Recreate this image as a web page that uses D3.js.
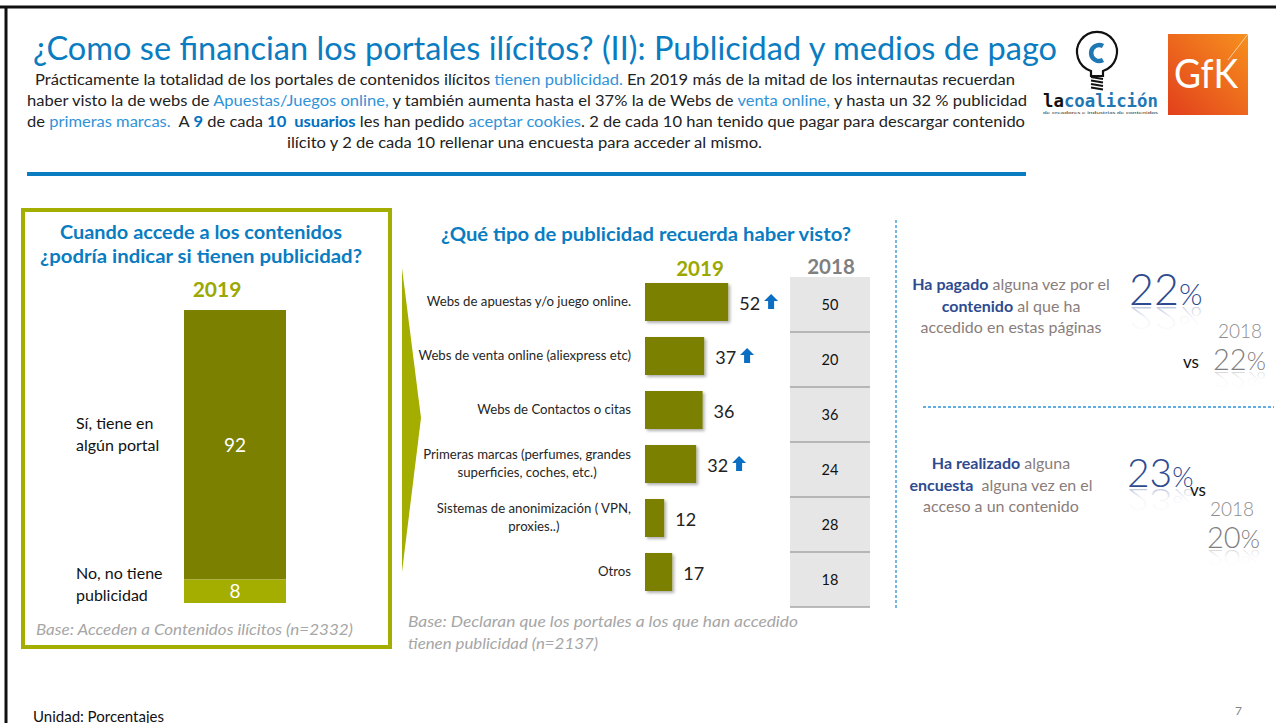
<!DOCTYPE html>
<html>
<head>
<meta charset="utf-8">
<title>Publicidad y medios de pago</title>
<script src="https://d3js.org/d3.v7.min.js"></script>
<style>
    body { margin: 0; background: #fff; }
    svg { display: block; font-family: Lato, "Open Sans", sans-serif; }
</style>
</head>
<body>
<svg width="1276" height="723"></svg>
<script>
    // left chart: does the portal have ads?
    const adAnswers = ["Sí, tiene en\nalgún portal", "No, no tiene\npublicidad"];
    const adShares = [92, 8];

    // middle chart: what kind of ads
    const adTypes = [
        "Webs de apuestas y/o juego online.",
        "Webs de venta online (aliexpress etc)",
        "Webs de Contactos o citas",
        "Primeras marcas (perfumes, grandes\nsuperficies, coches, etc.)",
        "Sistemas de anonimización ( VPN,\nproxies..)",
        "Otros"
    ];
    const seen2019 = [52, 37, 36, 32, 12, 17];
    const seen2018 = [50, 20, 36, 24, 28, 18];
    const rising = [true, true, false, true, false, false];

    // right side: paid / survey
    const sideQuestions = [
        [[["Ha pagado", "k"], [" alguna vez por el", "g"]], [["contenido", "k"], [" al que ha", "g"]], [["accedido en estas páginas", "g"]]],
        [[["Ha realizado", "k"], [" alguna", "g"]], [["encuesta", "k"], ["  alguna vez en el", "g"]], [["acceso a un contenido", "g"]]]
    ];
    const side2019 = [22, 23];
    const side2018 = [22, 20];

    const blue = "#0a7cc1", olive = "#7b8000", lime = "#a3ae00";

    const svg = d3.select("svg");
    const defs = svg.append("defs");

    // stretch a text to a given width
    function fitTo(t, w) {
        return t.attr("textLength", w).attr("lengthAdjust", "spacingAndGlyphs");
    }

    // frame
    svg.append("line").attr("x1", 0).attr("x2", 1276).attr("y1", 7).attr("y2", 7)
        .attr("stroke", "#111").attr("stroke-width", 3);
    svg.append("line").attr("x1", 6).attr("x2", 6).attr("y1", 6).attr("y2", 723)
        .attr("stroke", "#111").attr("stroke-width", 3);

    // title
    fitTo(svg.append("text").attr("x", 33).attr("y", 60)
        .attr("font-size", 32).attr("fill", blue)
        .text("¿Como se financian los portales ilícitos? (II): Publicidad y medios de pago"), 1024);

    // intro paragraph
    const introLines = [
        [["Prácticamente la totalidad de los portales de contenidos ilícitos ", "n"], ["tienen publicidad.", "l"], [" En 2019 más de la mitad de los internautas recuerdan", "n"]],
        [["haber visto la de webs de ", "n"], ["Apuestas/Juegos online,", "l"], [" y también aumenta hasta el 37% la de Webs de ", "n"], ["venta online,", "l"], [" y hasta un 32 % publicidad", "n"]],
        [["de ", "n"], ["primeras marcas.", "l"], ["  A ", "n"], ["9", "b"], [" de cada ", "n"], ["10  usuarios", "b"], [" les han pedido ", "n"], ["aceptar cookies", "l"], [". 2 de cada 10 han tenido que pagar para descargar contenido", "n"]],
        [["ilícito y 2 de cada 10 rellenar una encuesta para acceder al mismo.", "n"]]
    ];
    const introX = [[35, 980], [27, 1000], [27, 998], [287, 475]];
    const introY = [85, 106, 127, 148];
    const segStyle = {
        n: { fill: "#222", weight: 400 },
        l: { fill: "#2f93d8", weight: 400 },
        b: { fill: "#0070c0", weight: 700 }
    };
    introLines.forEach((segs, i) => {
        const t = fitTo(svg.append("text").attr("x", introX[i][0]).attr("y", introY[i])
            .attr("font-size", 14.5).style("white-space", "pre"), introX[i][1]);
        segs.forEach(([s, k]) => t.append("tspan").text(s)
            .attr("fill", segStyle[k].fill).attr("font-weight", segStyle[k].weight));
    });

    svg.append("rect").attr("x", 27).attr("y", 172).attr("width", 999).attr("height", 4).attr("fill", blue);

    // logos
    const bulb = svg.append("g").attr("transform", "translate(1097,53)");
    bulb.append("path")
        .attr("d", "M-6,18 A20,20 0 1,1 6,18 L6,23 L-6,23 Z")
        .attr("fill", "none").attr("stroke", "#111").attr("stroke-width", 2.2);
    bulb.append("path")
        .attr("d", "M6,-7 A8,8 0 1,0 6,7")
        .attr("fill", "none").attr("stroke", "#1f78b4").attr("stroke-width", 4.5);
    d3.range(4).forEach(i => bulb.append("line")
        .attr("x1", -6).attr("x2", 6).attr("y1", 24 + i * 3.5).attr("y2", 26 + i * 3.5)
        .attr("stroke", "#111").attr("stroke-width", 2));
    const lc = fitTo(svg.append("text").attr("x", 1043).attr("y", 107)
        .attr("font-family", "DejaVu Sans Mono").attr("font-weight", 700).attr("font-size", 17), 115);
    lc.append("tspan").attr("fill", "#111").text("la");
    lc.append("tspan").attr("fill", "#1f78b4").text("coalición");
    fitTo(svg.append("text").attr("x", 1043).attr("y", 114).attr("font-size", 4.5).attr("fill", "#333")
        .text("de creadores e industrias de contenidos"), 115);

    const gfkGrad = defs.append("linearGradient").attr("id", "gfk")
        .attr("x1", 0).attr("y1", 1).attr("x2", 1).attr("y2", 0);
    gfkGrad.append("stop").attr("offset", 0).attr("stop-color", "#e2401c");
    gfkGrad.append("stop").attr("offset", 1).attr("stop-color", "#f7901e");
    svg.append("rect").attr("x", 1168).attr("y", 34).attr("width", 80).attr("height", 81).attr("fill", "url(#gfk)");
    svg.append("line").attr("x1", 1228).attr("y1", 60).attr("x2", 1248).attr("y2", 34)
        .attr("stroke", "#fff").attr("stroke-opacity", 0.6).attr("stroke-width", 1);
    fitTo(svg.append("text").attr("x", 1206).attr("y", 88).attr("text-anchor", "middle")
        .attr("font-size", 40).attr("fill", "#fff").text("GfK"), 64);

    // ---------- left panel ----------
    svg.append("rect").attr("x", 23).attr("y", 210).attr("width", 367).attr("height", 437)
        .attr("fill", "none").attr("stroke", lime).attr("stroke-width", 4);
    [["Cuando accede a los contenidos", 282], ["¿podría indicar si tienen publicidad?", 322]].forEach(([s, w], i) =>
        fitTo(svg.append("text").attr("x", 201).attr("y", 239 + i * 24).attr("text-anchor", "middle")
            .attr("font-size", 18.5).attr("font-weight", 700).attr("fill", blue).text(s), w));
    svg.append("text").attr("x", 217).attr("y", 297).attr("text-anchor", "middle")
        .attr("font-size", 21).attr("font-weight", 700).attr("fill", "#9aa800").text("2019");

    const yStack = d3.scaleLinear().domain([0, 100]).range([603, 310]);
    const stackColors = [olive, lime];
    const starts = adShares.map((v, i) => d3.sum(adShares.slice(i + 1)));
    adShares.forEach((v, i) => {
        const y0 = yStack(starts[i] + v), y1 = yStack(starts[i]);
        svg.append("rect").attr("x", 184).attr("width", 102)
            .attr("y", y0).attr("height", y1 - y0).attr("fill", stackColors[i]);
        svg.append("text").attr("x", 235).attr("y", (y0 + y1) / 2 + 7)
            .attr("text-anchor", "middle").attr("font-size", 19).attr("fill", "#fff").text(v);
    });
    const answerY = [429, 579];
    adAnswers.forEach((a, i) => {
        a.split("\n").forEach((ln, j) => svg.append("text").attr("x", 76).attr("y", answerY[i] + j * 22)
            .attr("font-size", 16).attr("fill", "#111").text(ln));
    });
    fitTo(svg.append("text").attr("x", 36).attr("y", 635).attr("font-size", 15.5).attr("font-style", "italic")
        .attr("fill", "#a6a6a6").text("Base: Acceden a Contenidos ilícitos (n=2332)"), 317);

    // chevron
    svg.append("path").attr("d", "M402,268 L421,418 L402,572 Z").attr("fill", lime);

    // ---------- middle chart ----------
    fitTo(svg.append("text").attr("x", 646).attr("y", 241).attr("text-anchor", "middle")
        .attr("font-size", 18.5).attr("font-weight", 700).attr("fill", blue)
        .text("¿Qué tipo de publicidad recuerda haber visto?"), 410);
    svg.append("text").attr("x", 700).attr("y", 276).attr("text-anchor", "middle")
        .attr("font-size", 20.5).attr("font-weight", 700).attr("fill", "#9aa800").text("2019");
    svg.append("text").attr("x", 831).attr("y", 274).attr("text-anchor", "middle")
        .attr("font-size", 20.5).attr("font-weight", 700).attr("fill", "#7f7f7f").text("2018");

    const x = d3.scaleLinear().domain([0, 100]).range([645, 805]);
    const yBar = d3.scaleBand().domain(d3.range(adTypes.length)).range([275, 599])
        .paddingInner(0.296).paddingOuter(0.148);
    const yTab = d3.scaleBand().domain(d3.range(adTypes.length)).range([277, 607]);

    const shadow = defs.append("filter").attr("id", "shadow").attr("x", "-10%").attr("y", "-10%")
        .attr("width", "130%").attr("height", "140%");
    shadow.append("feDropShadow").attr("dx", 2).attr("dy", 2).attr("stdDeviation", 1.5)
        .attr("flood-color", "#000").attr("flood-opacity", 0.3);

    svg.selectAll(".bar").data(seen2019).enter().append("rect")
        .attr("class", "bar")
        .attr("x", x(0)).attr("y", (d, i) => yBar(i))
        .attr("width", d => x(d) - x(0)).attr("height", yBar.bandwidth())
        .attr("fill", olive).attr("filter", "url(#shadow)");

    const valLabels = svg.selectAll(".val").data(seen2019).enter().append("text")
        .attr("class", "val")
        .attr("x", d => x(d) + 11).attr("y", (d, i) => yBar(i) + yBar.bandwidth() / 2 + 8)
        .attr("font-size", 18).attr("fill", "#222").text(d => d);

    // up arrows
    valLabels.each(function (d, i) {
        if (!rising[i]) return;
        const bb = this.getBBox();
        const ax = bb.x + bb.width + 11, ay = yBar(i) + yBar.bandwidth() / 2;
        svg.append("path")
            .attr("d", `M${ax},${ay - 8} L${ax + 7},${ay - 1} L${ax + 3},${ay - 1} L${ax + 3},${ay + 7} L${ax - 3},${ay + 7} L${ax - 3},${ay - 1} L${ax - 7},${ay - 1} Z`)
            .attr("fill", "#0a6fc2");
    });

    // category labels, right edge at 631
    adTypes.forEach((c, i) => {
        const lines = c.split("\n");
        const cy = yBar(i) + yBar.bandwidth() / 2;
        const g = svg.append("g");
        const ts = lines.map((ln, j) => g.append("text")
            .attr("y", cy + 4 + (j - (lines.length - 1) / 2) * 18)
            .attr("font-size", 13.2).attr("fill", "#262626").attr("text-anchor", "middle").text(ln));
        const w = d3.max(ts, t => t.node().getComputedTextLength());
        ts.forEach(t => t.attr("x", 631 - w / 2));
    });

    // 2018 table
    svg.append("rect").attr("x", 790).attr("y", yTab.range()[0]).attr("width", 80)
        .attr("height", yTab.range()[1] - yTab.range()[0]).attr("fill", "#e7e6e6");
    svg.selectAll(".sep").data(seen2018).enter().append("line")
        .attr("x1", 790).attr("x2", 870)
        .attr("y1", (d, i) => yTab(i) + yTab.step()).attr("y2", (d, i) => yTab(i) + yTab.step())
        .attr("stroke", "#a6a6a6").attr("stroke-width", 1.5);
    svg.selectAll(".old").data(seen2018).enter().append("text")
        .attr("x", 830).attr("y", (d, i) => yTab(i) + yTab.step() / 2 + 5)
        .attr("text-anchor", "middle").attr("font-size", 14.5).attr("fill", "#111").text(d => d);

    fitTo(svg.append("text").attr("x", 408).attr("y", 627).attr("font-size", 15.5).attr("font-style", "italic")
        .attr("fill", "#a6a6a6").text("Base: Declaran que los portales a los que han accedido"), 390);
    fitTo(svg.append("text").attr("x", 408).attr("y", 649).attr("font-size", 15.5).attr("font-style", "italic")
        .attr("fill", "#a6a6a6").text("tienen publicidad (n=2137)"), 190);

    // ---------- right side ----------
    svg.append("line").attr("x1", 896).attr("x2", 896).attr("y1", 220).attr("y2", 610)
        .attr("stroke", "#2f93d8").attr("stroke-width", 1.3).attr("stroke-dasharray", "3,2");
    svg.append("line").attr("x1", 923).attr("x2", 1274).attr("y1", 407).attr("y2", 407)
        .attr("stroke", "#2f93d8").attr("stroke-width", 1.3).attr("stroke-dasharray", "3,2");

    const sideStyle = { k: { fill: "#2f4b8f", weight: 700 }, g: { fill: "#8a7d7b", weight: 400 } };
    const qCenter = [1011, 1001], qTop = [290, 469];
    sideQuestions.forEach((q, i) => {
        q.forEach((segs, j) => {
            const t = svg.append("text").attr("x", qCenter[i]).attr("y", qTop[i] + j * 21.5)
                .attr("text-anchor", "middle").attr("font-size", 16).style("white-space", "pre");
            segs.forEach(([s, k]) => t.append("tspan").text(s)
                .attr("fill", sideStyle[k].fill).attr("font-weight", sideStyle[k].weight));
        });
    });

    function fade(id, color) {
        const gr = defs.append("linearGradient").attr("id", id).attr("x1", 0).attr("y1", 0).attr("x2", 0).attr("y2", 1);
        gr.append("stop").attr("offset", 0).attr("stop-color", color).attr("stop-opacity", 0);
        gr.append("stop").attr("offset", 0.55).attr("stop-color", color).attr("stop-opacity", 0.05);
        gr.append("stop").attr("offset", 1).attr("stop-color", color).attr("stop-opacity", 0.45);
    }
    fade("fadeBlue", "#2f4b8f");
    fade("fadeGray", "#7f7f7f");

    function pct(px, py, v, size, color, fadeId, pctScale) {
        [false, true].forEach(mirror => {
            const t = svg.append("text").attr("x", px).attr("y", py).attr("font-weight", 300)
                .attr("fill", mirror ? `url(#${fadeId})` : color);
            if (mirror) t.attr("transform", `translate(0,${py + 2}) scale(1,-0.75) translate(0,${-py})`);
            t.append("tspan").attr("font-size", size).text(v);
            t.append("tspan").attr("font-size", size * pctScale).text("%");
        });
    }

    const bigPos = [[1129, 305, 43], [1127, 487, 39]];
    const oldPos = [[1213, 370], [1207, 548]];
    const yearPos = [[1218, 338], [1210, 516]];
    const vsPos = [[1183, 368], [1190, 496]];
    side2019.forEach((v, i) => {
        pct(bigPos[i][0], bigPos[i][1], v, bigPos[i][2], "#2f4b8f", "fadeBlue", 0.7);
        svg.append("text").attr("x", yearPos[i][0]).attr("y", yearPos[i][1]).attr("font-size", 19)
            .attr("font-weight", 300).attr("fill", "#8c8c8c").text("2018");
        svg.append("text").attr("x", vsPos[i][0]).attr("y", vsPos[i][1]).attr("font-size", 17)
            .attr("fill", "#111").text("vs");
        pct(oldPos[i][0], oldPos[i][1], side2018[i], 29, "#7f7f7f", "fadeGray", 0.85);
    });

    // footer
    svg.append("text").attr("x", 33).attr("y", 722).attr("font-size", 15).attr("fill", "#111")
        .text("Unidad: Porcentajes");
    svg.append("text").attr("x", 1235).attr("y", 715).attr("font-size", 12).attr("fill", "#888").text("7");
</script>
</body>
</html>
